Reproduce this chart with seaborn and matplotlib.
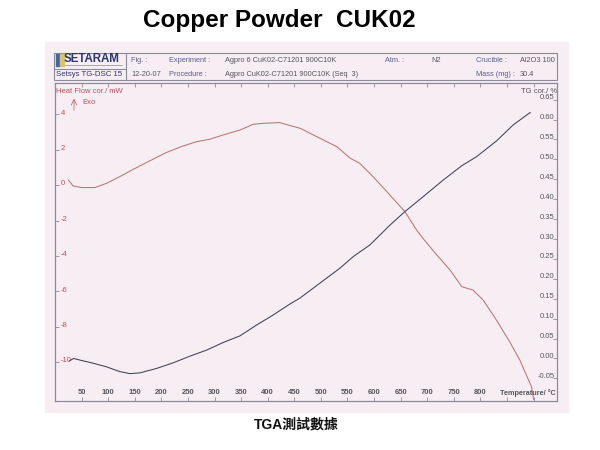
"""
TGA / heat flow scan of copper powder CUK02 (Setsys TG-DSC 15 printout).
Writes out.png (600x450).
"""

import matplotlib.pyplot as plt
import matplotlib.patches as mpatches
import pandas as pd
import seaborn as sns

TITLE = 'Copper Powder  CUK02'
CAPTION = 'TGA測試數據'

# heat flow curve (red, left axis): temperature in degC, heat flow in mW
HF_TEMP = [25, 34, 50, 75, 97, 122, 147, 179, 210, 241, 266, 291, 316, 348,
           373, 392, 423, 442, 461, 498, 530, 555, 573, 598, 624, 658, 680,
           692, 718, 743, 765, 786, 805, 830, 855, 874, 896, 900]
HF_MW = [0.30, -0.04, -0.13, -0.13, 0.11, 0.49, 0.90, 1.39, 1.86, 2.22, 2.46,
         2.60, 2.84, 3.12, 3.45, 3.50, 3.54, 3.37, 3.22, 2.66, 2.18, 1.53,
         1.24, 0.49, -0.36, -1.49, -2.53, -3.00, -3.94, -4.79, -5.73, -5.92,
         -6.48, -7.61, -8.84, -9.87, -11.38, -12.10]

# TG curve (dark, right axis): temperature in degC, mass change in %
TG_TEMP = [27, 35, 47, 72, 97, 122, 141, 160, 191, 222, 254, 285, 316, 348,
           379, 410, 442, 461, 498, 536, 561, 592, 605, 630, 658, 692, 730,
           765, 793, 830, 862, 894]
TG_PCT = [-0.006, 0.000, -0.004, -0.012, -0.021, -0.033, -0.038, -0.036,
          -0.025, -0.011, 0.006, 0.021, 0.040, 0.057, 0.084, 0.109, 0.137,
          0.152, 0.189, 0.227, 0.256, 0.285, 0.302, 0.335, 0.369, 0.406,
          0.448, 0.484, 0.507, 0.546, 0.587, 0.618]

TEMP_TICKS = list(range(50, 901, 50))
TEMP_LABELS = [str(t) for t in range(50, 801, 50)]
HF_TICKS = [4, 2, 0, -2, -4, -6, -8, -10]
TG_TICKS = [0.65, 0.60, 0.55, 0.50, 0.45, 0.40, 0.35, 0.30, 0.25, 0.20,
            0.15, 0.10, 0.05, 0.00, -0.05]

HEADER_LABELS = [('Fig. :', '12-20-07'), ('Experiment :', 'Procedure :'),
                 ('Atm. :', ''), ('Crucible :', 'Mass (mg) :')]
HEADER_VALUES = [('Agpro 6 CuK02-C71201 900C10K', 'Agpro CuK02-C71201 900C10K (Seq  3)'),
                 ('N2', ''), ('Al2O3 100', '30.4')]

COLORS = {
    'panel': '#f6eef2',
    'frame': '#8a8a98',
    'hf': '#bb7474',
    'tg': '#3e4058',
    'red_text': '#c0505a',
    'grey_text': '#55555f',
    'head_label': '#5a5c8c',
    'navy': '#2d3470',
}

W, H = 600, 450


def fx(px):
    return px / W


def fy(py):
    return 1 - py / H


def setup_style():
    sns.set_style('white')
    plt.rcParams['font.family'] = ['Liberation Sans', 'Noto Sans CJK TC', 'DejaVu Sans']


def draw_header(fig):
    # pink scanned page panel
    fig.patches.append(mpatches.Rectangle((fx(45), fy(412)), fx(568) - fx(45), fy(42) - fy(412),
                                          transform=fig.transFigure, color=COLORS['panel'],
                                          zorder=-5))
    # header box
    box = dict(transform=fig.transFigure, fill=False, edgecolor=COLORS['frame'], lw=0.8, zorder=2)
    fig.patches.append(mpatches.Rectangle((fx(54), fy(80)), fx(557) - fx(54), fy(53) - fy(80), **box))
    fig.lines.append(plt.Line2D([fx(54), fx(126)], [fy(69), fy(69)], transform=fig.transFigure,
                                color=COLORS['frame'], lw=0.8))
    fig.lines.append(plt.Line2D([fx(126), fx(126)], [fy(53), fy(80)], transform=fig.transFigure,
                                color=COLORS['frame'], lw=0.8))

    # logo
    fig.patches.append(mpatches.Rectangle((fx(56), fy(66)), fx(4), fy(54) - fy(66),
                                          transform=fig.transFigure, color='#4065a8', zorder=3))
    fig.patches.append(mpatches.Rectangle((fx(60), fy(66)), fx(3.5), fy(54) - fy(66),
                                          transform=fig.transFigure, color='#d8c466', zorder=3))
    fig.text(fx(64), fy(59.5), 'SETARAM', fontsize=8.3, fontweight='bold', color=COLORS['navy'],
             va='center', ha='left')
    fig.lines.append(plt.Line2D([fx(65), fx(122)], [fy(65), fy(65)], transform=fig.transFigure,
                                color='#9a9ab0', lw=0.6))
    fig.text(fx(55.5), fy(74.8), 'Setsys TG-DSC 15', fontsize=5.6, color=COLORS['navy'],
             va='center', ha='left')

    label_x = [131, 169.5, 385, 476]
    for x, (top, bottom) in zip(label_x, HEADER_LABELS):
        fig.text(fx(x), fy(60.5), top, fontsize=5.3, color=COLORS['head_label'], va='center')
        color = COLORS['grey_text'] if x == 131 else COLORS['head_label']
        fig.text(fx(x), fy(74.5), bottom, fontsize=5.3, color=color, va='center')
    value_x = [225, 431, 520]
    for x, (top, bottom) in zip(value_x, HEADER_VALUES):
        fig.text(fx(x), fy(60.5), top, fontsize=5.3, color=COLORS['grey_text'], va='center')
        fig.text(fx(x), fy(74.5), bottom, fontsize=5.3, color=COLORS['grey_text'], va='center')


def draw_curves(fig):
    ax = fig.add_axes([fx(55), fy(400.7), fx(557) - fx(55), fy(83.3) - fy(400.7)])
    ax.set_facecolor('none')
    ax2 = ax.twinx()
    ax2.set_facecolor('none')

    hf = pd.DataFrame({'temp': HF_TEMP, 'hf': HF_MW})
    tg = pd.DataFrame({'temp': TG_TEMP, 'tg': TG_PCT})
    sns.lineplot(data=hf, x='temp', y='hf', ax=ax, color=COLORS['hf'], lw=0.75,
                 estimator=None)
    sns.lineplot(data=tg, x='temp', y='tg', ax=ax2, color=COLORS['tg'], lw=0.75,
                 estimator=None)

    ax.set_xlim(0, 944)
    ax.set_ylim(-12.17, 5.76)
    ax2.set_ylim(-0.106, 0.691)

    for a in (ax, ax2):
        a.set_xlabel('')
        a.set_ylabel('')
        for s in a.spines.values():
            s.set_color(COLORS['frame'])
            s.set_linewidth(0.8)

    ax.set_xticks(TEMP_TICKS)
    ax.set_xticklabels([])
    ax.set_yticks(HF_TICKS)
    ax.set_yticklabels([])
    ax2.set_yticks(TG_TICKS)
    ax2.set_yticklabels([])
    ax.tick_params(axis='x', direction='in', length=3, width=0.6, color=COLORS['frame'],
                   top=True, bottom=True)
    ax.tick_params(axis='y', direction='in', length=3, width=0.6, color=COLORS['frame'],
                   left=True, right=False)
    ax2.tick_params(axis='y', direction='in', length=3, width=0.6, color=COLORS['frame'],
                    right=True, left=False)

    xt = ax.get_xaxis_transform()
    for t, lab in zip(TEMP_TICKS, TEMP_LABELS):
        ax.text(t, 0.025, lab, transform=xt, ha='center', va='center', fontsize=5.5,
                fontweight='bold', color=COLORS['grey_text'])
    ax.text(0.998, 0.025, 'Temperature/ °C', transform=ax.transAxes, ha='right', va='center',
            fontsize=5.2, fontweight='bold', color=COLORS['grey_text'])

    yt = ax.get_yaxis_transform()
    for v in HF_TICKS:
        ax.text(0.012, v + 0.08, f'{v:d}', transform=yt, ha='left', va='center', fontsize=5.5,
                color=COLORS['red_text'])
    yt2 = ax2.get_yaxis_transform()
    for v in TG_TICKS:
        ax2.text(0.995, v + 0.005, f'{v:.2f}', transform=yt2, ha='right', va='center',
                 fontsize=5.5, color=COLORS['grey_text'])

    fig.text(fx(56), fy(91.5), 'Heat Flow cor./ mW', fontsize=5.5, color=COLORS['red_text'],
             va='center', ha='left')
    fig.text(fx(82), fy(102), 'Exo', fontsize=5.5, color=COLORS['red_text'], va='center',
             ha='left')
    fig.text(fx(557), fy(91.5), 'TG cor./ %', fontsize=5.5, color=COLORS['grey_text'],
             va='center', ha='right')
    ax.annotate('', xy=(fx(74), fy(96)), xytext=(fx(74), fy(113)), xycoords='figure fraction',
                textcoords='figure fraction',
                arrowprops=dict(arrowstyle='->', color=COLORS['red_text'], lw=0.5))


def main():
    setup_style()
    fig = plt.figure(figsize=(6, 4.5), dpi=100, facecolor='white')
    draw_header(fig)
    draw_curves(fig)

    fig.text(fx(279), fy(21), TITLE, fontsize=17.5, fontweight='bold', color='black',
             ha='center', va='center')
    fig.text(fx(296), fy(425), CAPTION, fontsize=10, fontweight='bold', color='#111111',
             ha='center', va='center')

    fig.savefig('out.png', dpi=100, facecolor='white')


if __name__ == '__main__':
    main()
